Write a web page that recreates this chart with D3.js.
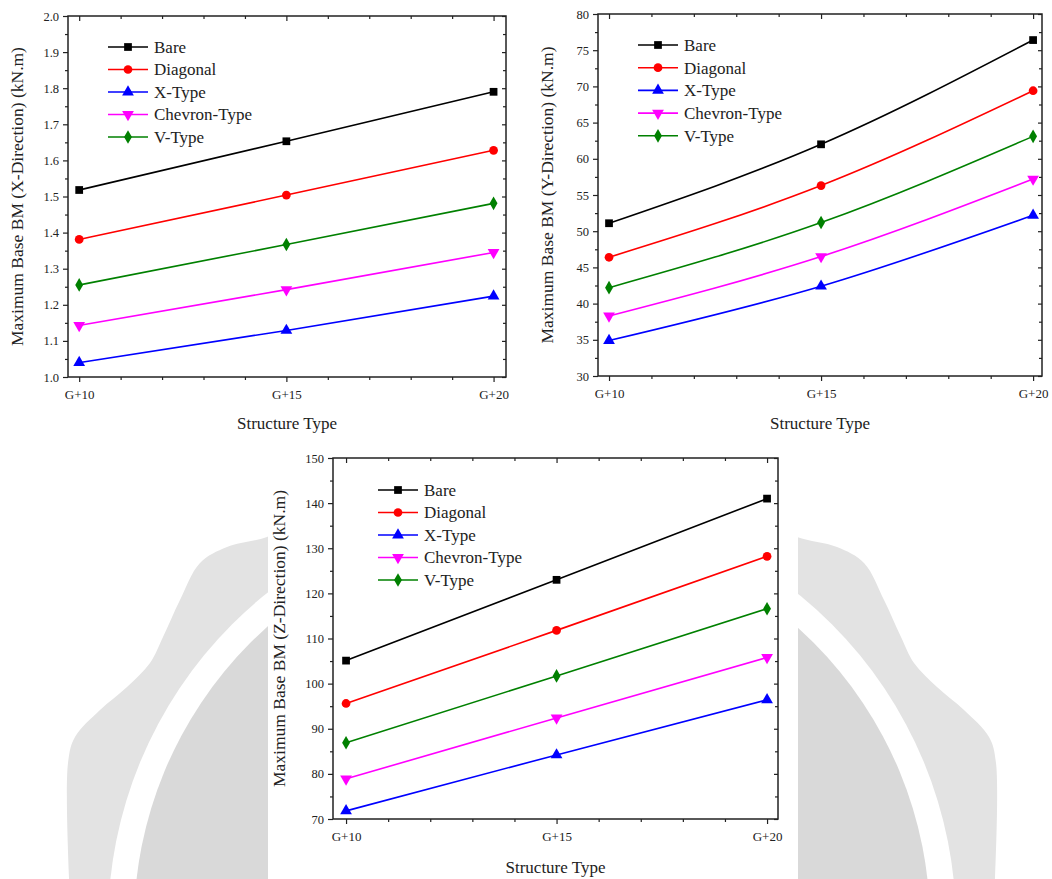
<!DOCTYPE html>
<html>
<head>
<meta charset="utf-8">
<script src="https://cdn.jsdelivr.net/npm/d3@7"></script>
<style>
  html, body { margin: 0; padding: 0; background: #fff; }
  svg { display: block; }
  text { font-family: "Liberation Serif", "DejaVu Serif", serif; fill: #222; }
</style>
</head>
<body>
<svg id="chart" width="1052" height="879"></svg>
<script>
// ---------------- data ----------------
const categories = ["G+10", "G+15", "G+20"];
const storeys = [10, 15, 20];
const seriesNames = ["Bare", "Diagonal", "X-Type", "Chevron-Type", "V-Type"];

// X-direction (kN.m)
const xBare     = [1.518, 1.653, 1.790];
const xDiagonal = [1.381, 1.504, 1.628];
const xXType    = [1.040, 1.129, 1.224];
const xChevron  = [1.143, 1.242, 1.345];
const xVType    = [1.255, 1.367, 1.481];

// Y-direction (kN.m)
const yBare     = [51.1, 62.0, 76.4];
const yDiagonal = [46.4, 56.3, 69.4];
const yXType    = [34.9, 42.4, 52.2];
const yChevron  = [38.3, 46.5, 57.2];
const yVType    = [42.2, 51.2, 63.1];

// Z-direction (kN.m)
const zBare     = [105.1, 123.0, 141.0];
const zDiagonal = [95.6, 111.8, 128.2];
const zXType    = [71.8, 84.2, 96.4];
const zChevron  = [78.9, 92.4, 105.8];
const zVType    = [86.9, 101.7, 116.6];

// y-axis tick labels
const xDirTicks = [1.0, 1.1, 1.2, 1.3, 1.4, 1.5, 1.6, 1.7, 1.8, 1.9, 2.0];
const yDirTicks = [30, 35, 40, 45, 50, 55, 60, 65, 70, 75, 80];
const zDirTicks = [70, 80, 90, 100, 110, 120, 130, 140, 150];

// ---------------- styles ----------------
const colors = ["#000000", "#ff0000", "#0000ff", "#ff00ff", "#008000"];
const symbols = [
  {type: d3.symbolSquare, size: 60, rot: 0},
  {type: d3.symbolCircle, size: 60, rot: 0},
  {type: d3.symbolTriangle, size: 60, rot: 0},
  {type: d3.symbolTriangle, size: 60, rot: 180},
  {type: d3.symbolDiamond, size: 54, rot: 0}
];

const svg = d3.select("#chart");

// ---------------- background watermark (decorative) ----------------
const wmCenter = [532, 924];
const wmOutlineLeft = [[70, 900], [68, 763], [75, 737], [100, 710], [127, 687], [150, 663],
  [163, 637], [180, 600], [200, 563], [227, 547], [267, 537], [300, 520]];
(function drawWatermark() {
  const g = svg.append("g");
  const left = wmOutlineLeft;
  const right = left.map(p => [2 * wmCenter[0] - p[0], p[1]]).reverse();
  const pts = left.concat(right);
  const line = d3.line().curve(d3.curveCatmullRom);
  g.append("path").attr("d", line(pts) + "Z").attr("fill", "#e3e3e3");
  g.append("circle").attr("cx", wmCenter[0]).attr("cy", wmCenter[1]).attr("r", 424).attr("fill", "#ffffff");
  g.append("circle").attr("cx", wmCenter[0]).attr("cy", wmCenter[1]).attr("r", 398).attr("fill", "#d9d9d9");
  // white backdrop of the lower figure
  g.append("rect").attr("x", 268).attr("y", 430).attr("width", 530).attr("height", 449).attr("fill", "#ffffff");
})();

// ---------------- chart builder ----------------
function drawChart(cfg) {
  const g = svg.append("g");
  const x = d3.scaleLinear().domain(cfg.xDomain).range([cfg.left, cfg.right]);
  const y = d3.scaleLinear().domain(cfg.yDomain).range([cfg.bottom, cfg.top]);

  const majorX = storeys;
  const minorX = d3.range(cfg.xDomain[0], cfg.xDomain[1]).map(Math.ceil)
    .filter((v, i, a) => a.indexOf(v) === i && v >= 10 && v <= 20 && !majorX.includes(v));
  const majorY = cfg.yTicks;
  const step = majorY[1] - majorY[0];
  const minorY = majorY.slice(0, -1).map(v => v + step / 2);

  const axisColor = "#222";
  // bottom axis
  const bottom = g.append("g").attr("transform", `translate(0,${cfg.bottom})`)
    .call(d3.axisBottom(x).tickValues(majorX).tickFormat((d, i) => categories[i]).tickSizeInner(5).tickSizeOuter(0).tickPadding(6));
  bottom.selectAll("text").attr("font-size", 13).attr("fill", "#333").attr("dy", "0.85em");
  g.append("g").attr("transform", `translate(0,${cfg.bottom})`)
    .call(d3.axisBottom(x).tickValues(minorX).tickFormat("").tickSizeInner(3).tickSizeOuter(0));
  // top axis (inward)
  g.append("g").attr("transform", `translate(0,${cfg.top})`)
    .call(d3.axisBottom(x).tickValues(majorX).tickFormat("").tickSizeInner(5).tickSizeOuter(0));
  g.append("g").attr("transform", `translate(0,${cfg.top})`)
    .call(d3.axisBottom(x).tickValues(minorX).tickFormat("").tickSizeInner(3).tickSizeOuter(0));
  // left axis
  const leftAx = g.append("g").attr("transform", `translate(${cfg.left},0)`)
    .call(d3.axisLeft(y).tickValues(majorY).tickFormat(cfg.yFormat).tickSizeInner(5).tickSizeOuter(0).tickPadding(4));
  leftAx.selectAll("text").attr("font-size", 12.5).attr("fill", "#333");
  g.append("g").attr("transform", `translate(${cfg.left},0)`)
    .call(d3.axisLeft(y).tickValues(minorY).tickFormat("").tickSizeInner(3).tickSizeOuter(0));
  // right axis (inward)
  g.append("g").attr("transform", `translate(${cfg.right},0)`)
    .call(d3.axisLeft(y).tickValues(majorY).tickFormat("").tickSizeInner(4).tickSizeOuter(0));
  g.append("g").attr("transform", `translate(${cfg.right},0)`)
    .call(d3.axisLeft(y).tickValues(minorY).tickFormat("").tickSizeInner(3).tickSizeOuter(0));
  g.selectAll(".domain").remove();
  g.selectAll(".tick line").attr("stroke", axisColor).attr("stroke-width", 1.2);

  // frame
  g.append("rect").attr("x", cfg.left).attr("y", cfg.top)
    .attr("width", cfg.right - cfg.left).attr("height", cfg.bottom - cfg.top)
    .attr("fill", "none").attr("stroke", axisColor).attr("stroke-width", 1.5);

  // titles
  g.append("text").attr("x", (cfg.left + cfg.right) / 2).attr("y", cfg.xTitleY)
    .attr("text-anchor", "middle").attr("font-size", 17).text("Structure Type");
  g.append("text").attr("transform", `translate(${cfg.yTitleX},${(cfg.top + cfg.bottom) / 2}) rotate(-90)`)
    .attr("text-anchor", "middle").attr("font-size", 17.5).text(cfg.yTitle);

  // series
  const line = d3.line().x((d, i) => x(storeys[i])).y(d => y(d)).curve(d3.curveNatural);
  cfg.series.forEach((vals, s) => {
    g.append("path").attr("d", line(vals)).attr("fill", "none")
      .attr("stroke", colors[s]).attr("stroke-width", 1.6);
  });
  cfg.series.forEach((vals, s) => {
    const sym = d3.symbol().type(symbols[s].type).size(symbols[s].size);
    g.selectAll(null).data(vals).enter().append("path")
      .attr("d", sym)
      .attr("transform", (d, i) => `translate(${x(storeys[i])},${y(d)}) rotate(${symbols[s].rot})`)
      .attr("fill", colors[s]);
  });

  // legend
  const lg = g.append("g");
  seriesNames.forEach((name, s) => {
    const ly = cfg.legend.y + s * cfg.legend.dy;
    lg.append("line").attr("x1", cfg.legend.x).attr("x2", cfg.legend.x + 40)
      .attr("y1", ly).attr("y2", ly).attr("stroke", colors[s]).attr("stroke-width", 1.6);
    lg.append("path").attr("d", d3.symbol().type(symbols[s].type).size(symbols[s].size))
      .attr("transform", `translate(${cfg.legend.x + 20},${ly}) rotate(${symbols[s].rot})`)
      .attr("fill", colors[s]);
    lg.append("text").attr("x", cfg.legend.x + 46).attr("y", ly).attr("dy", "0.35em")
      .attr("font-size", 17).text(name);
  });
}

drawChart({
  left: 68, right: 506, top: 16, bottom: 377,
  xDomain: [9.73, 20.3], yDomain: [1.0, 2.0], yTicks: xDirTicks, yFormat: d3.format(".1f"),
  series: [xBare, xDiagonal, xXType, xChevron, xVType],
  yTitle: "Maximum Base BM (X-Direction) (kN.m)", yTitleX: 23, xTitleY: 429,
  legend: {x: 108, y: 47, dy: 22.5}
});

drawChart({
  left: 598, right: 1042, top: 14, bottom: 376,
  xDomain: [9.74, 20.21], yDomain: [30, 80], yTicks: yDirTicks, yFormat: d3.format("d"),
  series: [yBare, yDiagonal, yXType, yChevron, yVType],
  yTitle: "Maximum Base BM (Y-Direction) (kN.m)", yTitleX: 553, xTitleY: 429,
  legend: {x: 638, y: 45, dy: 22.7}
});

drawChart({
  left: 333, right: 778, top: 458, bottom: 819,
  xDomain: [9.69, 20.26], yDomain: [70, 150], yTicks: zDirTicks, yFormat: d3.format("d"),
  series: [zBare, zDiagonal, zXType, zChevron, zVType],
  yTitle: "Maximum Base BM (Z-Direction) (kN.m)", yTitleX: 285, xTitleY: 873,
  legend: {x: 378, y: 490, dy: 22.5}
});
</script>
</body>
</html>
